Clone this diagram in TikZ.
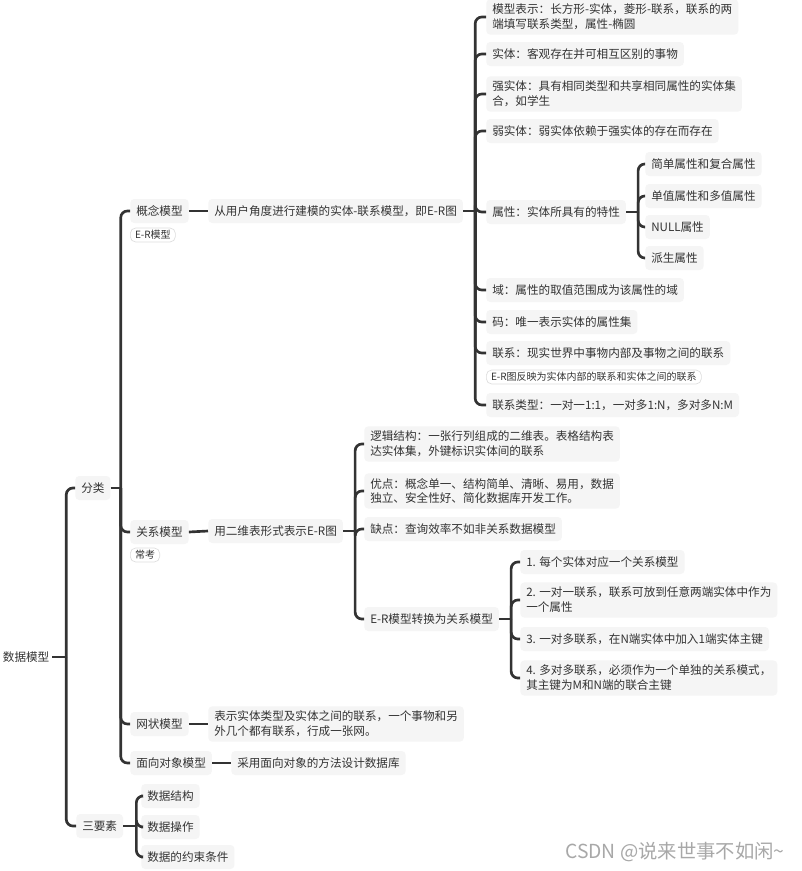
\documentclass[tikz,border=0pt]{standalone}
\usepackage{fontspec}
\setmainfont{Noto Sans CJK SC}
\definecolor{boxbg}{HTML}{F5F5F5}
\definecolor{txt}{HTML}{333333}
\definecolor{lin}{HTML}{333333}
\definecolor{tagline}{HTML}{DDDDDD}
\definecolor{wm}{HTML}{A8A8A8}
\begin{document}
\begin{tikzpicture}[x=0.75pt,y=-0.75pt]
\tikzset{
 box/.style={anchor=west, fill=boxbg, rounded corners=3pt, inner xsep=4.5pt, inner ysep=3.5pt, minimum height=18pt, align=left, text=txt, font=\fontsize{8.7}{11.2}\selectfont},
 tagbox/.style={anchor=west, fill=white, draw=tagline, line width=0.5pt, rounded corners=4pt, inner xsep=3.5pt, inner ysep=1.5pt, minimum height=10.5pt, text=txt, font=\fontsize{7.5}{8.5}\selectfont},
 conn/.style={draw=lin, line width=2pt},
 brc/.style={conn, rounded corners=5pt},
}
\useasboundingbox[fill=white] (0,0) rectangle (802,871);

% root and first levels
\node[box, fill=none, inner xsep=2pt] (root) at (0,657) {数据模型};
\node[box] (fl) at (75,488) {分类};
\node[box] (sys) at (76,826) {三要素};

\node[box] (gn) at (130,211) {概念模型};
\node[tagbox] (tgn) at (130,235) {E-R模型};
\node[box] (gx) at (130,532) {关系模型};
\node[tagbox] (tgx) at (130,555) {常考};
\node[box] (wz) at (130,724) {网状模型};
\node[box] (mx) at (130,763) {面向对象模型};

% 概念模型 branch
\node[box] (gnd) at (208,211) {从用户角度进行建模的实体-联系模型，即E-R图};
\node[box] (a1) at (486,17) {模型表示：长方形-实体，菱形-联系，联系的两\\端填写联系类型，属性-椭圆};
\node[box] (a2) at (486,54) {实体：客观存在并可相互区别的事物};
\node[box] (a3) at (486,94) {强实体：具有相同类型和共享相同属性的实体集\\合，如学生};
\node[box] (a4) at (486,131) {弱实体：弱实体依赖于强实体的存在而存在};
\node[box] (a5) at (486,212) {属性：实体所具有的特性};
\node[box] (b1) at (645,164) {简单属性和复合属性};
\node[box] (b2) at (645,196) {单值属性和多值属性};
\node[box] (b3) at (645,227) {NULL属性};
\node[box] (b4) at (645,258) {派生属性};
\node[box] (a6) at (486,290) {域：属性的取值范围成为该属性的域};
\node[box] (a7) at (486,322) {码：唯一表示实体的属性集};
\node[box] (a8) at (486,353) {联系：现实世界中事物内部及事物之间的联系};
\node[tagbox] (ta8) at (486,377) {E-R图反映为实体内部的联系和实体之间的联系};
\node[box] (a9) at (486,405) {联系类型：一对一1:1，一对多1:N，多对多N:M};

% 关系模型 branch
\node[box] (gxd) at (208,531) {用二维表形式表示E-R图};
\node[box] (c1) at (364,444) {逻辑结构：一张行列组成的二维表。表格结构表\\达实体集，外键标识实体间的联系};
\node[box] (c2) at (364,491) {优点：概念单一、结构简单、清晰、易用，数据\\独立、安全性好、简化数据库开发工作。};
\node[box] (c3) at (364,529) {缺点：查询效率不如非关系数据模型};
\node[box] (c4) at (364,619) {E-R模型转换为关系模型};
\node[box] (d1) at (520,562) {1. 每个实体对应一个关系模型};
\node[box] (d2) at (520,600) {2. 一对一联系，联系可放到任意两端实体中作为\\一个属性};
\node[box] (d3) at (520,639) {3. 一对多联系，在N端实体中加入1端实体主键};
\node[box] (d4) at (520,678) {4. 多对多联系，必须作为一个单独的关系模式，\\其主键为M和N端的联合主键};

% 网状 / 面向对象
\node[box] (wzd) at (208,724) {表示实体类型及实体之间的联系，一个事物和另\\外几个都有联系，行成一张网。};
\node[box] (mxd) at (231,763) {采用面向对象的方法设计数据库};

% 三要素
\node[box] (s1) at (141,796) {数据结构};
\node[box] (s2) at (141,827) {数据操作};
\node[box] (s3) at (141,857) {数据的约束条件};

% connectors
\draw[conn] (root.east) -- ++(14,0) coordinate (jr);
\foreach \c in {fl,sys} \draw[brc] (jr) |- (\c.west);

\draw[conn] (fl.east) -- ++(10,0) coordinate (jfl);
\foreach \c in {gn,gx,wz,mx} \draw[brc] (jfl) |- (\c.west);

\draw[conn] (gn.east) -- (gnd.west);
\draw[conn] (gx.east) -- (gxd.west);
\draw[conn] (wz.east) -- (wzd.west);
\draw[conn] (mx.east) -- (mxd.west);

\draw[conn] (gnd.east) -- ++(12,0) coordinate (jgn);
\foreach \c in {a1,a2,a3,a4,a5,a6,a7,a8,a9} \draw[brc] (jgn) |- (\c.west);

\draw[conn] (a5.east) -- ++(12,0) coordinate (ja5);
\foreach \c in {b1,b2,b3,b4} \draw[brc] (ja5) |- (\c.west);

\draw[conn] (gxd.east) -- ++(12,0) coordinate (jgx);
\foreach \c in {c1,c2,c3,c4} \draw[brc] (jgx) |- (\c.west);

\draw[conn] (c4.east) -- ++(12,0) coordinate (jc4);
\foreach \c in {d1,d2,d3,d4} \draw[brc] (jc4) |- (\c.west);

\draw[conn] (sys.east) -- ++(13,0) coordinate (jsy);
\foreach \c in {s1,s2,s3} \draw[brc] (jsy) |- (\c.west);

% watermark
\node[anchor=west, text=wm, inner sep=0pt, font=\fontsize{14.5}{16}\selectfont] (wmk) at (565,852) {CSDN @说来世事不如闲\textasciitilde};
\end{tikzpicture}
\end{document}
